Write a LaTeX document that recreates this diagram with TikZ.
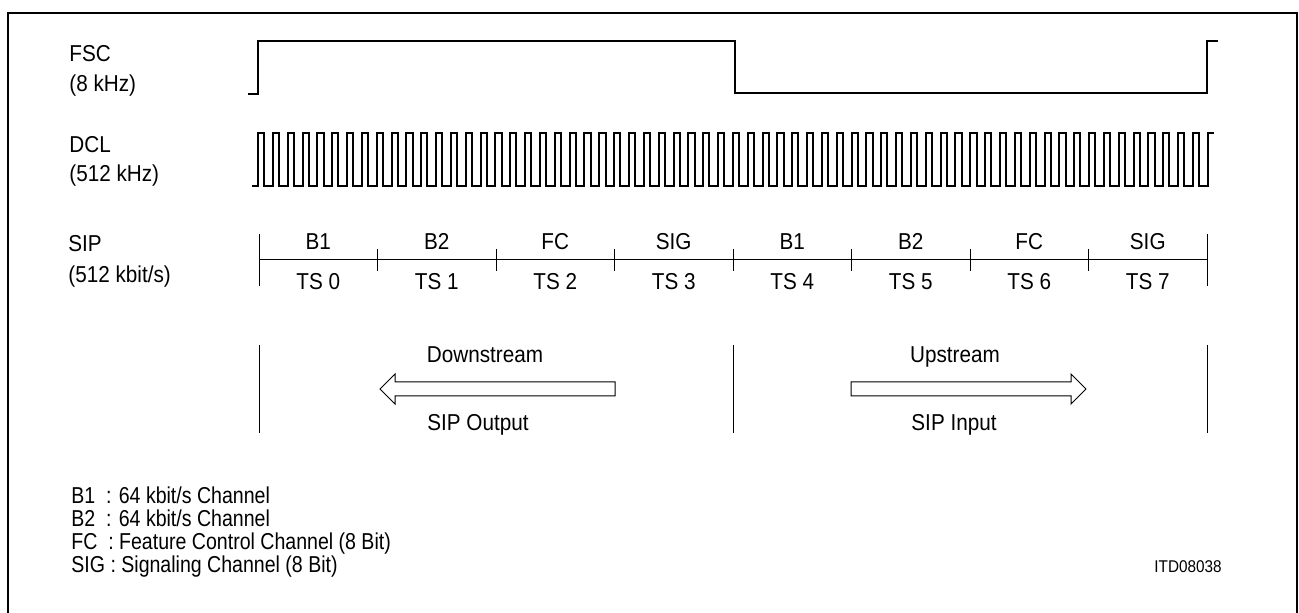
\documentclass[tikz,border=0pt]{standalone}
\usepackage{fontspec}
\setmainfont{Liberation Sans}[FakeStretch=0.9]
\newfontfamily\legendfont{Liberation Sans}[FakeStretch=0.85]

\tikzset{
  lbl/.style={font=\fontsize{11.5}{14}\selectfont, inner sep=0pt},
  legend/.style={font=\legendfont\fontsize{11.5}{14}\selectfont, inner sep=0pt, anchor=base west},
  tag/.style={font=\fontsize{8.5}{10}\selectfont, inner sep=0pt},
  frame/.style={line width=1.3pt},
  fscwave/.style={line width=1.4pt},
  clkwave/.style={line width=1pt},
  slot/.style={line width=0.5pt},
  flow/.style={line width=0.5pt, fill=white}
}

\begin{document}
\begin{tikzpicture}[x=0.5pt, y=-0.5pt, line join=miter]
    \useasboundingbox (0,0) rectangle (1299,613);
    % outer frame (open at the bottom)
    \draw[frame] (8,640) -- (8,13) -- (1297,13) -- (1297,640);

    % signal names
    \node[lbl, anchor=base west] (fsc) at (69,62) {FSC};
    \node[lbl, anchor=base west] (fscrate) at (69,92) {(8 kHz)};
    \node[lbl, anchor=base west] (dcl) at (69,153) {DCL};
    \node[lbl, anchor=base west] (dclrate) at (69,182) {(512 kHz)};
    \node[lbl, anchor=base west] (sip) at (68,252) {SIP};
    \node[lbl, anchor=base west] (siprate) at (68,283) {(512 kbit/s)};

    % FSC
    \draw[fscwave] (248,94) -- (258,94) -- (258,41) -- (735,41) -- (735,93)
        -- (1207,93) -- (1207,41) -- (1218,41);

    % DCL, 64 clocks per frame
    \draw[clkwave] (252,186)
        \foreach \i in {0,...,63} { -- ({258+\i*14.84},186) -- ++(0,-53) -- ++(6.2,0) -- ++(0,53) }
        -- (1208,186) -- (1208,133) -- (1214,133);

    % SIP time slots
    \draw[slot] (259,260) -- (1207,260);
    \draw[slot] (259,234) -- (259,286);
    \draw[slot] (1207,234) -- (1207,286);
    \foreach \k in {1,...,7}
        \draw[slot] ({259+\k*118.5},249) -- ++(0,22);
    \foreach \lab [count=\k from 0] in {B1,B2,FC,SIG,B1,B2,FC,SIG} {
        \node[lbl, anchor=base] (ch\k) at ({259+(\k+0.5)*118.5},250) {\lab};
        \node[lbl, anchor=base] (ts\k) at ({259+(\k+0.5)*118.5},290) {TS \k};
    }

    % directions
    \draw[slot] (259,345) -- (259,433);
    \draw[slot] (733,345) -- (733,433);
    \draw[slot] (1207,345) -- (1207,433);
    \draw[flow] (615,382) -- (395,382) -- (395,374) -- (380,389) -- (395,404)
        -- (395,396) -- (615,396) -- cycle;
    \draw[flow] (851,382) -- (1071,382) -- (1071,374) -- (1086,389) -- (1071,404)
        -- (1071,396) -- (851,396) -- cycle;
    \node[lbl, anchor=base] (down) at (485,363) {Downstream};
    \node[lbl, anchor=base] (sipout) at (478,431) {SIP Output};
    \node[lbl, anchor=base] (up) at (955,363) {Upstream};
    \node[lbl, anchor=base] (sipin) at (954,431) {SIP Input};

    % legend
    \node[legend] (leg1) at (71,504) {B1~~: 64 kbit/s Channel};
    \node[legend] (leg2) at (71,527) {B2~~: 64 kbit/s Channel};
    \node[legend] (leg3) at (71,550) {FC~~: Feature Control Channel (8 Bit)};
    \node[legend] (leg4) at (71,573) {SIG : Signaling Channel (8 Bit)};
    \node[tag, anchor=base east] (fig) at (1222,573) {ITD08038};
\end{tikzpicture}
\end{document}
